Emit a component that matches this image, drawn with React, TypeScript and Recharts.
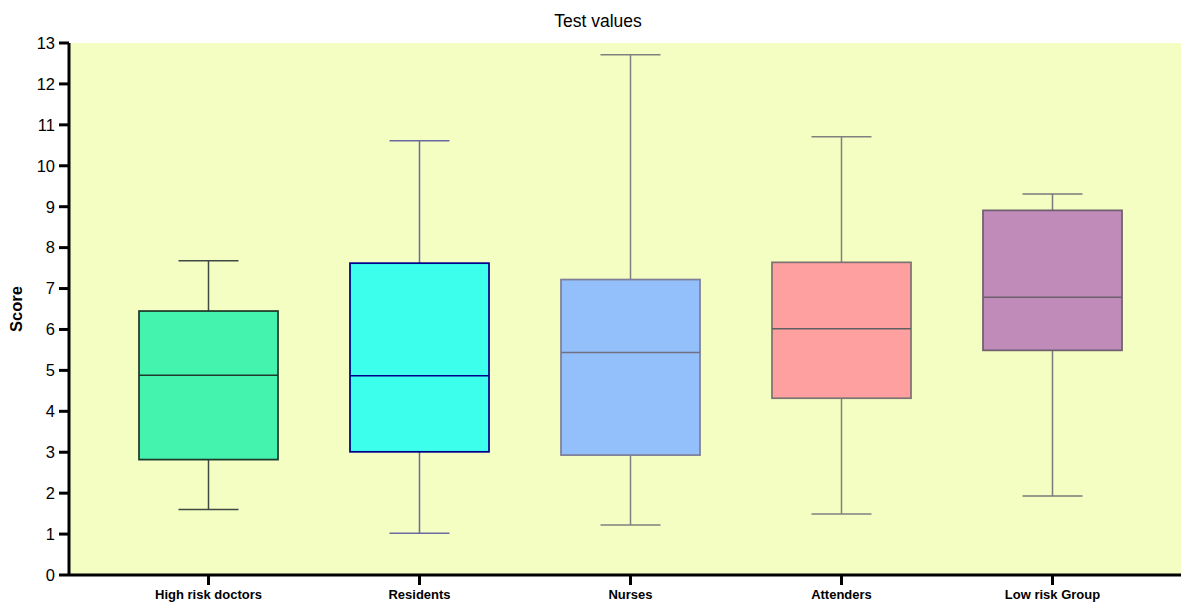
import { ComposedChart, Bar, XAxis, YAxis, CartesianGrid, Label } from 'recharts';

const categories = ['High risk doctors', 'Residents', 'Nurses', 'Attenders', 'Low risk Group'];
const minValues = [1.6, 1.02, 1.22, 1.49, 1.93];
const q1Values = [2.82, 3.01, 2.93, 4.32, 5.49];
const medianValues = [4.88, 4.87, 5.44, 6.02, 6.79];
const q3Values = [6.45, 7.62, 7.22, 7.64, 8.91];
const maxValues = [7.68, 10.61, 12.71, 10.71, 9.31];
const yTicks = [0, 1, 2, 3, 4, 5, 6, 7, 8, 9, 10, 11, 12, 13];

const fills = ['#43F3AE', '#3CFFEC', '#93BFFA', '#FFA0A0', '#C08BB8'];
const strokes = ['#1F3A2C', '#000088', '#7F7F9A', '#7F7474', '#6F6070'];
const whiskerColors = ['#3F4A42', '#6A6AA0', '#808080', '#808080', '#7A7A7A'];
const medianColors = ['#1F3A2C', '#000088', '#707080', '#606060', '#6A606A'];

const data = categories.map((name, i) => ({
  name,
  idx: i,
  box: [q1Values[i], q3Values[i]],
  min: minValues[i],
  q1: q1Values[i],
  median: medianValues[i],
  q3: q3Values[i],
  max: maxValues[i],
}));

function BoxShape(props: any) {
  const { x, y, width, height, payload } = props;
  const top = Math.min(y, y + height);
  const h = Math.abs(height);
  const perUnit = h / (payload.q3 - payload.q1);
  const toY = (v: number) => top + (payload.q3 - v) * perUnit;
  const cx = x + width / 2;
  const capHalf = 30;
  const i = payload.idx;
  const yMax = toY(payload.max);
  const yMin = toY(payload.min);
  const yMed = toY(payload.median);
  const bottom = top + h;
  return (
    <g>
      <line x1={cx} x2={cx} y1={yMax} y2={top} stroke={whiskerColors[i]} strokeWidth={1.5} />
      <line x1={cx - capHalf} x2={cx + capHalf} y1={yMax} y2={yMax} stroke={whiskerColors[i]} strokeWidth={1.5} />
      <line x1={cx} x2={cx} y1={bottom} y2={yMin} stroke={whiskerColors[i]} strokeWidth={1.5} />
      <line x1={cx - capHalf} x2={cx + capHalf} y1={yMin} y2={yMin} stroke={whiskerColors[i]} strokeWidth={1.5} />
      <rect x={x} y={top} width={width} height={h} fill={fills[i]} stroke={strokes[i]} strokeWidth={1.75} />
      <line x1={x} x2={x + width} y1={yMed} y2={yMed} stroke={medianColors[i]} strokeWidth={1.5} />
    </g>
  );
}

export default function App() {
  return (
    <div style={{ position: 'absolute', left: 0, top: 0, width: 1181, height: 603, background: '#fff', fontFamily: 'Liberation Sans, Arial, sans-serif' }}>
      <div style={{ position: 'absolute', left: 0, top: 11, width: 1196, textAlign: 'center', fontSize: 17.5, color: '#000', whiteSpace: 'nowrap' }}>
        Test values
      </div>
      <ComposedChart
        width={1181}
        height={603}
        data={data}
        margin={{ top: 43, right: 0, bottom: 0, left: 0 }}
      >
        <CartesianGrid horizontal={false} vertical={false} fill="#F4FEC2" />
        <XAxis
          dataKey="name"
          height={28}
          padding={{ left: 34, right: 23 }}
          axisLine={{ stroke: '#000', strokeWidth: 3 }}
          tickLine={{ stroke: '#000', strokeWidth: 3 }}
          tickSize={10}
          tickMargin={5}
          tick={{ fill: '#000', fontSize: 13, fontWeight: 'bold' }}
          interval={0}
        />
        <YAxis
          width={69}
          domain={[0, 13]}
          ticks={yTicks}
          allowDataOverflow
          axisLine={{ stroke: '#000', strokeWidth: 3 }}
          tickLine={{ stroke: '#000', strokeWidth: 3 }}
          tickSize={10}
          tickMargin={4}
          tick={{ fill: '#000', fontSize: 16.5 }}
        >
          <Label value="Score" angle={-90} position="insideLeft" offset={16} style={{ fontWeight: 'bold', fontSize: 16.5, fill: '#000', textAnchor: 'middle' }} />
        </YAxis>
        <Bar dataKey="box" barSize={139} shape={<BoxShape />} isAnimationActive={false} />
      </ComposedChart>
    </div>
  );
}
